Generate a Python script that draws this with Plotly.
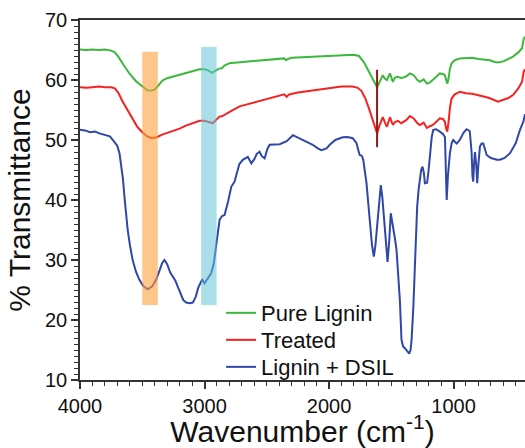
import plotly.graph_objects as go

green_wn = [4000,3950,3900,3850,3800,3750,3720,3690,3650,3600,3550,3500,3460,3430,3400,3370,3338,3300,3250,3200,3150,3100,3040,3000,2970,2940,2915,2885,2860,2840,2800,2700,2600,2500,2400,2360,2345,2330,2300,2200,2100,2000,1900,1800,1760,1720,1690,1660,1630,1614,1595,1568,1550,1535,1511,1495,1487,1470,1447,1420,1380,1350,1320,1290,1270,1240,1214,1190,1166,1140,1110,1085,1070,1058,1050,1040,1030,1015,990,948,900,850,800,750,707,670,643,600,560,522,480,450,436,426]
green_t = [65.1,65.0,65.1,65.0,65.1,64.9,64.6,63.8,62.5,61.0,59.8,58.9,58.3,58.2,58.4,59.1,59.9,60.3,60.6,60.9,61.2,61.5,61.8,61.8,61.6,61.2,61.5,61.9,61.95,62.4,62.8,63.0,63.2,63.3,63.5,63.6,63.3,63.5,63.7,63.8,64.0,64.1,64.2,64.2,64.0,63.0,61.8,60.6,59.4,58.8,59.6,60.8,60.2,60.0,61.1,60.0,59.7,60.4,60.55,60.3,60.6,61.1,60.8,60.0,59.7,60.1,59.4,59.6,60.0,60.5,61.1,61.0,60.8,59.6,59.4,60.2,61.8,62.8,63.3,63.6,63.6,63.7,63.5,63.4,63.3,63.0,62.9,63.1,63.5,63.9,64.6,65.3,66.9,67.2]

red_wn = [4000,3950,3900,3850,3800,3750,3720,3690,3660,3620,3580,3540,3500,3460,3420,3380,3340,3300,3257,3200,3150,3100,3040,3000,2970,2935,2910,2880,2860,2823,2780,2718,2650,2550,2450,2396,2360,2340,2320,2250,2131,2050,1994,1900,1810,1770,1740,1710,1680,1650,1630,1614,1595,1568,1550,1535,1511,1495,1487,1470,1447,1420,1380,1350,1320,1290,1270,1240,1214,1190,1166,1140,1110,1085,1070,1058,1050,1040,1028,1015,990,948,900,850,800,750,707,670,643,600,560,522,480,450,436,426]
red_t = [58.8,58.7,58.8,58.9,58.8,58.8,58.6,57.8,56.5,55.0,53.5,52.2,51.3,50.6,50.3,50.5,50.9,51.2,51.4,51.9,52.4,52.8,53.2,53.2,53.0,52.8,53.3,53.9,53.95,54.45,54.9,55.6,56.0,56.6,57.1,57.5,57.6,57.2,57.6,57.9,58.2,58.5,58.6,58.9,58.9,58.7,58.2,57.0,55.3,53.4,52.0,51.1,52.4,53.8,52.9,52.2,53.8,52.8,52.5,53.0,53.2,52.8,53.3,54.0,53.6,52.8,52.5,52.9,52.0,52.3,52.5,53.0,53.6,53.5,53.05,51.8,51.4,53.0,55.5,56.95,57.6,58.05,57.8,57.7,57.5,57.2,56.95,56.6,56.4,56.7,57.0,57.5,58.6,59.7,61.4,61.8]

blue_wn = [4000,3960,3920,3880,3844,3800,3760,3724,3700,3683,3670,3655,3643,3630,3617,3600,3577,3550,3523,3490,3456,3420,3389,3360,3340,3322,3300,3275,3255,3235,3215,3190,3170,3147,3120,3094,3070,3050,3030,3018,3000,2975,2946,2925,2906,2890,2879,2860,2839,2810,2785,2759,2740,2720,2692,2652,2624,2600,2580,2558,2540,2517,2495,2477,2396,2340,2290,2250,2200,2131,2090,2061,2020,1994,1950,1914,1890,1850,1810,1780,1765,1754,1740,1735,1725,1712,1699,1685,1672,1655,1640,1627,1614,1598,1584,1572,1560,1545,1530,1517,1504,1494,1485,1470,1458,1445,1431,1418,1405,1391,1370,1356,1345,1337,1323,1311,1300,1292,1280,1270,1260,1249,1238,1230,1220,1212,1200,1190,1175,1163,1140,1110,1085,1069,1062,1055,1045,1029,1015,1003,975,950,920,895,870,855,848,842,835,828,818,810,800,788,775,761,748,734,700,653,627,590,546,500,466,440,426]
blue_t = [51.7,51.6,51.3,51.4,51.1,50.9,50.6,49.7,49.0,47.8,46.1,43.5,40.55,37.5,35.0,32.6,30.0,28.0,26.7,25.6,25.1,25.6,26.7,28.3,29.5,30.0,29.3,27.9,27.2,26.6,25.55,24.2,23.3,22.9,22.8,22.9,23.9,25.4,26.3,26.8,26.1,26.8,27.8,29.5,32.2,34.8,36.7,37.3,37.5,39.8,42.2,43.05,44.6,46.0,46.7,47.2,46.1,46.8,47.7,48.05,47.3,46.95,48.5,49.2,49.3,49.8,50.8,50.4,50.0,49.2,48.6,48.3,48.6,49.2,50.0,50.3,50.45,50.5,50.3,49.5,48.3,47.5,47.4,47.3,46.7,45.0,42.8,39.5,36.1,32.5,30.55,32.5,35.55,40.0,42.5,40.5,37.2,32.5,29.7,33.0,37.8,36.5,35.0,33.5,31.7,27.5,23.3,16.7,15.6,15.3,14.8,14.4,15.0,16.7,22.0,28.9,34.5,38.9,41.8,43.9,45.0,45.55,44.5,42.8,42.9,42.9,45.0,47.5,50.5,51.7,51.8,51.4,51.0,50.5,46.0,40.0,44.0,47.8,49.5,50.0,49.4,50.0,51.2,51.8,51.5,48.0,44.0,43.05,46.0,48.0,46.0,42.8,46.0,48.9,49.4,49.4,48.5,47.5,47.0,46.7,46.7,47.0,47.8,49.5,51.7,53.0,54.3]

series_names = ["Pure Lignin", "Treated", "Lignin + DSIL"]
series_colors = ["#3cb83c", "#f52222", "#2f48a8"]

# highlight bands: [wn_start, wn_end, t_bottom, t_top]
band_orange = [3500, 3375, 22.5, 64.7]
band_blue = [3027, 2903, 22.5, 65.5]
marker_line = [1614, 48.8, 61.7]

x_ticks = [4000, 3000, 2000, 1000]
y_ticks = [10, 20, 30, 40, 50, 60, 70]

font_family = "Arial, Liberation Sans, sans-serif"

legend_ids = ["legend", "legend2", "legend3"]
legend_y = [0.186, 0.111, 0.036]

fig = go.Figure()
for wn, t, name, col, lg in [(green_wn, green_t, series_names[0], series_colors[0], legend_ids[0]),
                             (red_wn, red_t, series_names[1], series_colors[1], legend_ids[1]),
                             (blue_wn, blue_t, series_names[2], series_colors[2], legend_ids[2])]:
    fig.add_trace(go.Scatter(x=wn, y=t, mode="lines", name=name, legend=lg,
                             line=dict(color=col, width=2)))

fig.add_shape(type="rect", xref="x", yref="y", x0=band_orange[0], x1=band_orange[1],
              y0=band_orange[2], y1=band_orange[3], fillcolor="rgb(253,160,60)",
              opacity=0.6, line=dict(width=0), layer="above")
fig.add_shape(type="rect", xref="x", yref="y", x0=band_blue[0], x1=band_blue[1],
              y0=band_blue[2], y1=band_blue[3], fillcolor="rgb(100,195,215)",
              opacity=0.55, line=dict(width=0), layer="above")
fig.add_shape(type="line", xref="x", yref="y", x0=marker_line[0], x1=marker_line[0],
              y0=marker_line[1], y1=marker_line[2], line=dict(color="#8b1a1a", width=2),
              layer="above")

legend_style = dict(x=0.317, xanchor="left", yanchor="middle",
                    bgcolor="rgba(0,0,0,0)", font=dict(size=22, family=font_family),
                    itemwidth=30)

fig.update_layout(
    width=525, height=448,
    margin=dict(l=80, r=0, t=20, b=68, autoexpand=False),
    paper_bgcolor="white", plot_bgcolor="white",
    font=dict(family=font_family, color="#111"),
    showlegend=True,
    legend=dict(y=legend_y[0], **legend_style),
    legend2=dict(y=legend_y[1], **legend_style),
    legend3=dict(y=legend_y[2], **legend_style),
)
fig.update_xaxes(
    range=[4000, 426], tickvals=x_ticks, ticktext=[str(v) for v in x_ticks],
    automargin=False,
    showline=True, linecolor="#333", linewidth=1.5, mirror=True,
    ticks="outside", ticklen=7, tickwidth=1.5, tickcolor="#333",
    minor=dict(dtick=100, ticks="outside", ticklen=4, tickwidth=1.2, tickcolor="#333"),
    showgrid=False, zeroline=False,
    tickfont=dict(size=20),
    title=dict(text="Wavenumber (cm<sup>-1</sup>)", font=dict(size=30), standoff=0),
)
fig.update_yaxes(
    range=[10, 70], tickvals=y_ticks,
    automargin=False,
    showline=True, linecolor="#333", linewidth=1.5, mirror=False,
    ticks="outside", ticklen=7, tickwidth=1.5, tickcolor="#333",
    minor=dict(dtick=1, ticks="outside", ticklen=4, tickwidth=1.2, tickcolor="#333"),
    showgrid=False, zeroline=False,
    tickfont=dict(size=20),
    title=dict(text="% Transmittance", font=dict(size=30), standoff=6),
)

fig.write_html("out.html", config={"displayModeBar": False},
               post_script="document.body.style.margin='0';document.body.style.overflow='hidden';")
